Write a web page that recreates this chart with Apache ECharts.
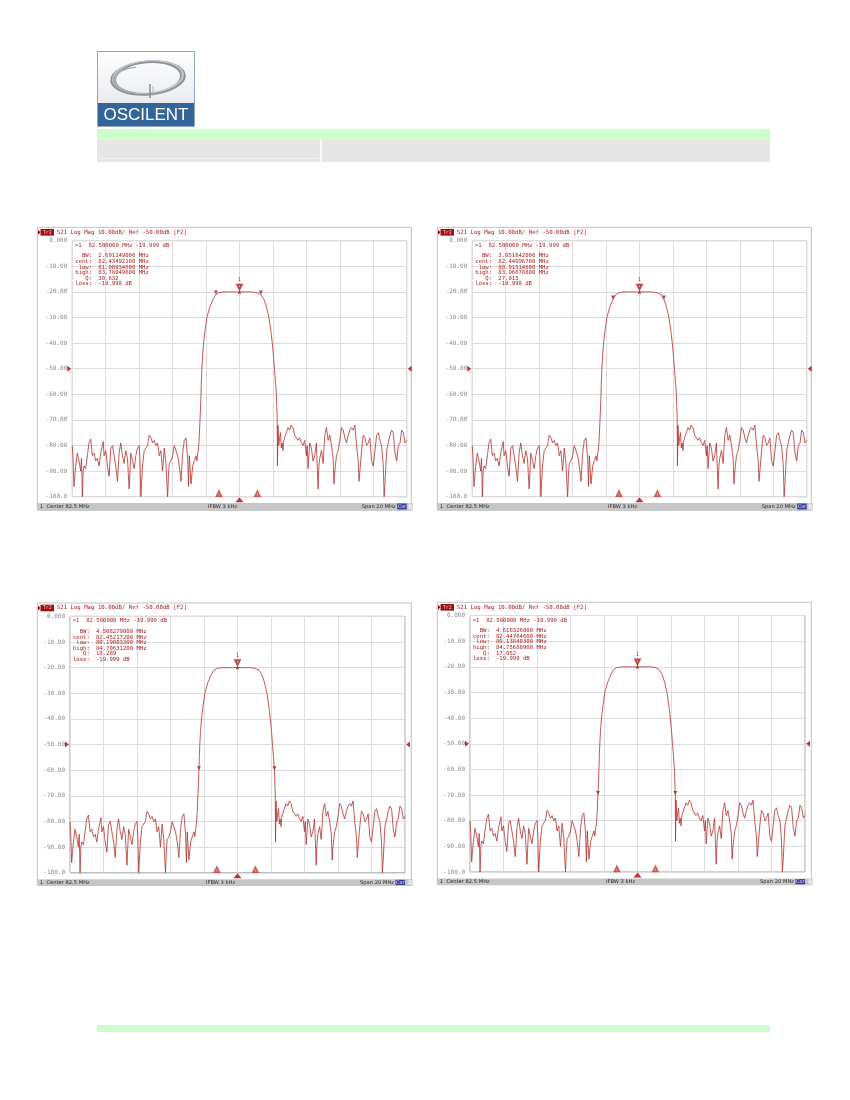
<!DOCTYPE html>
<html>
<head>
<meta charset="utf-8">
<script src="https://cdn.jsdelivr.net/npm/echarts@6/dist/echarts.min.js"></script>
<style>
  html, body { margin: 0; padding: 0; background: #fff; }
  #main { width: 850px; height: 1100px; }
</style>
</head>
<body>
<div id="main"></div>
<script>
// sweep settings
const centerMHz = 82.5;
const spanMHz = 20;

// S21 trace, [MHz, dB] - same sweep on all four screens
const traceLow = [
  [72.50,-80],[72.55,-86],[72.60,-96],[72.65,-92],[72.70,-88],[72.80,-83],[72.90,-86],[73.00,-90],
  [73.05,-85],[73.10,-100],[73.15,-90],[73.20,-88],[73.30,-89],[73.40,-84],[73.50,-79],[73.60,-77.5],
  [73.70,-84],[73.80,-83],[73.90,-86],[74.00,-85],[74.10,-88],[74.20,-83],[74.30,-80],[74.35,-78.5],
  [74.40,-84],[74.50,-82],[74.60,-88],[74.70,-92],[74.80,-81],[74.90,-80],[75.00,-84],[75.10,-88],
  [75.20,-94],[75.30,-83],[75.40,-79],[75.50,-84],[75.60,-87],[75.70,-82],[75.80,-85],[75.90,-97],
  [76.00,-83],[76.10,-86],[76.20,-89],[76.30,-84],[76.40,-81],[76.50,-80],[76.55,-86],[76.60,-100],
  [76.70,-88],[76.80,-82],[76.90,-81],[77.00,-80],[77.10,-76],[77.20,-77],[77.30,-79],[77.40,-78],
  [77.50,-80],[77.60,-79],[77.70,-84],[77.80,-82],[77.90,-90],[78.00,-81],[78.10,-87],[78.20,-100],
  [78.25,-92],[78.30,-87],[78.40,-86],[78.50,-84],[78.60,-80],[78.70,-80],[78.80,-84],[78.90,-88],
  [79.00,-94],[79.10,-83],[79.20,-78],[79.30,-77],[79.40,-85],[79.45,-96],[79.50,-84],[79.60,-95],
  [79.70,-88],[79.80,-86],[79.90,-84],[79.95,-86],[80.00,-83],[80.05,-81]
];
const traceBand = [
  [80.09,-77],[80.138,-70],[80.17,-65],[80.198,-60],[80.22,-55],[80.25,-50],[80.29,-45],[80.35,-40],
  [80.44,-35],[80.55,-30],[80.72,-26],[80.915,-23],[81.089,-21],[81.25,-20.4],[81.45,-20.1],
  [81.80,-20.0],[82.20,-20.0],[82.50,-20.0],[82.80,-20.0],[83.20,-20.0],[83.45,-20.15],[83.62,-20.5],
  [83.78,-21],[83.967,-23],[84.12,-26],[84.26,-30],[84.37,-35],[84.46,-40],[84.53,-45],[84.59,-50],
  [84.65,-55],[84.706,-60],[84.73,-65],[84.757,-70],[84.77,-88]
];
const traceHigh = [
  [84.80,-72],[84.85,-80],[84.90,-77],[84.95,-75],[85.00,-81],[85.05,-79],[85.10,-82],[85.15,-78],
  [85.20,-77],[85.30,-75],[85.40,-73],[85.50,-74],[85.60,-72],[85.65,-71.5],[85.70,-73],[85.80,-76],
  [85.90,-77],[86.00,-78],[86.10,-77],[86.20,-79],[86.30,-80],[86.40,-78],[86.50,-84],[86.55,-80],
  [86.60,-89],[86.70,-79],[86.80,-81],[86.90,-86],[87.00,-84],[87.10,-79],[87.15,-88],[87.20,-97],
  [87.25,-88],[87.30,-85],[87.40,-82],[87.50,-87],[87.60,-76],[87.70,-73],[87.80,-78],[87.90,-76],
  [88.00,-80],[88.10,-85],[88.15,-95],[88.20,-90],[88.30,-84],[88.40,-82],[88.50,-78],[88.60,-73],
  [88.70,-74],[88.80,-77],[88.90,-79],[89.00,-76],[89.10,-74],[89.20,-73],[89.30,-74],[89.40,-72],
  [89.50,-80],[89.60,-86],[89.65,-94],[89.70,-90],[89.80,-82],[89.90,-76],[90.00,-77],[90.10,-80],
  [90.20,-79],[90.30,-77],[90.40,-86],[90.50,-88],[90.60,-82],[90.70,-76],[90.80,-75],[90.90,-78],
  [91.00,-80],[91.10,-88],[91.15,-100],[91.20,-95],[91.30,-82],[91.40,-79],[91.50,-76],[91.60,-74],
  [91.70,-75],[91.80,-83],[91.90,-86],[92.00,-80],[92.10,-79],[92.20,-74],[92.30,-75],[92.40,-79],
  [92.50,-78]
];

const yTickLabels = ['0.000','-10.00','-20.00','-30.00','-40.00','-50.00','-60.00','-70.00','-80.00','-90.00','-100.0'];
const refLevel = -50;

// marker readouts, one entry per screen
const bwLevel = [-21.0, -23.0, -60.0, -70.0];
const bwText = ['2.691149000', '3.051642000', '4.508279000', '4.618326000'];
const centText = ['82.43492100', '82.44096700', '82.45217200', '82.44764600'];
const lowText = ['81.08934600', '80.91514600', '80.19803300', '80.13848300'];
const highText = ['83.78049600', '83.96678800', '84.70631200', '84.75680900'];
const qText = ['30.632', '27.015', '18.289', '17.852'];
const lossText = '-19.999 dB';
const marker1 = [82.5, -19.999];
const stimMarks = [81.27, 83.57];

const titleText = 'S21 Log Mag 10.00dB/ Ref -50.00dB [F2]';
const statusText = ['1  Center 82.5 MHz', 'IFBW 3 kHz', 'Span 20 MHz'];

// screen layout on the page
const panelBoxes = [
  { fx: 37.3, fy: 227.3, fw: 374, fh: 283, gl: 72.3, gt: 240.7, gw: 334.4, gh: 256, sy: 503, sh: 7 },
  { fx: 437.3, fy: 227.3, fw: 374, fh: 283, gl: 472.3, gt: 240.7, gw: 334.4, gh: 256, sy: 503, sh: 7 },
  { fx: 37.3, fy: 603, fw: 374, fh: 282.5, gl: 70, gt: 616.3, gw: 335, gh: 256.5, sy: 879.3, sh: 6.2 },
  { fx: 437.3, fy: 602.3, fw: 374, fh: 282.5, gl: 470, gt: 615.5, gw: 335, gh: 256.5, sy: 878.6, sh: 6.2 },
];

const red = '#a81c1c';
const mono = '"DejaVu Sans Mono", "Liberation Mono", monospace';
const trace = traceLow.concat(traceBand, traceHigh).map((p) => [p[0] - centerMHz, p[1]]);

function txt(x, y, text, size, color, align, family, weight) {
  return {
    type: 'text', silent: true, z: 50,
    style: {
      x: x, y: y, text: text, fill: color,
      font: (weight || 'normal') + ' ' + size + 'px ' + (family || mono),
      align: align || 'left', textAlign: align || 'left',
      verticalAlign: 'middle', textVerticalAlign: 'middle',
    },
  };
}

const grids = [], xAxes = [], yAxes = [], series = [];
let graphics = [];

// page header: logo + coloured bars
graphics.push(
  { type: 'rect', shape: { x: 97.5, y: 51.5, width: 97, height: 75 }, style: { fill: '#ffffff', stroke: '#8fa5c2', lineWidth: 1 } },
  { type: 'rect', shape: { x: 98, y: 52, width: 96, height: 51 },
    style: { fill: new echarts.graphic.LinearGradient(0, 0, 0, 1, [{ offset: 0, color: '#ffffff' }, { offset: 1, color: '#e9ebef' }]) } },
  { type: 'circle', x: 148, y: 78, rotation: 0.08, scaleY: 0.46, shape: { cx: 0, cy: 0, r: 35 },
    style: { fill: 'none', stroke: '#8f949b', lineWidth: 4, strokeNoScale: true } },
  { type: 'circle', x: 148, y: 77, rotation: 0.08, scaleY: 0.46, shape: { cx: 0, cy: 0, r: 35 },
    style: { fill: 'none', stroke: '#c4c7cc', lineWidth: 1.5, strokeNoScale: true } },
  { type: 'arc', x: 140, y: 80, scaleY: 0.5, shape: { cx: 0, cy: 0, r: 26, startAngle: Math.PI * 0.55, endAngle: Math.PI * 1.45 },
    style: { fill: 'none', stroke: '#a9adb3', lineWidth: 2.5, strokeNoScale: true } },
  { type: 'line', shape: { x1: 150, y1: 84, x2: 150, y2: 98 }, style: { stroke: '#8f949b', lineWidth: 1.6 } },
  { type: 'line', shape: { x1: 153, y1: 86, x2: 153, y2: 96 }, style: { stroke: '#b0b3b8', lineWidth: 1 } },
  { type: 'rect', shape: { x: 98, y: 103, width: 96, height: 23 }, style: { fill: '#33649a' } },
  txt(146, 115.5, 'OSCILENT', 17, '#ffffff', 'center', '"Liberation Sans", Arial, sans-serif'),
  { type: 'rect', shape: { x: 97, y: 129, width: 673, height: 10.5 }, style: { fill: '#ccffcc' } },
  { type: 'rect', shape: { x: 97, y: 139.5, width: 673, height: 22.5 }, style: { fill: '#e6e6e6' } },
  { type: 'line', shape: { x1: 321, y1: 139.5, x2: 321, y2: 162 }, style: { stroke: '#ffffff', lineWidth: 1.5 } },
  { type: 'line', shape: { x1: 99, y1: 158.5, x2: 318, y2: 158.5 }, style: { stroke: '#f2f2f2', lineWidth: 1 } },
  { type: 'rect', shape: { x: 97, y: 1025, width: 673, height: 7 }, style: { fill: '#ccffcc' } }
);

panelBoxes.forEach((b, i) => {
  grids.push({
    left: b.gl, top: b.gt, width: b.gw, height: b.gh,
    show: true, backgroundColor: '#ffffff', borderColor: '#a3a3a3', borderWidth: 1,
  });
  xAxes.push({
    type: 'value', gridIndex: i, min: -spanMHz / 2, max: spanMHz / 2, interval: 2,
    axisLine: { show: false }, axisTick: { show: false }, axisLabel: { show: false },
    splitLine: { lineStyle: { color: '#dddddd', width: 1 } },
  });
  yAxes.push({
    type: 'value', gridIndex: i, min: -100, max: 0, interval: 10,
    axisLine: { show: false }, axisTick: { show: false },
    splitLine: { lineStyle: { color: '#dddddd', width: 1 } },
    axisLabel: {
      margin: 5, fontSize: 6, fontFamily: mono,
      color: (v) => (v === refLevel ? '#c00000' : '#8a8a8a'),
      formatter: (v) => yTickLabels[Math.round(-v / 10)],
    },
  });

  series.push({
    type: 'line', xAxisIndex: i, yAxisIndex: i, data: trace,
    showSymbol: false, symbol: 'none', animation: false, z: 3,
    lineStyle: { color: '#b3302e', width: 0.8 },
  });
  // bandwidth search markers
  series.push({
    type: 'scatter', xAxisIndex: i, yAxisIndex: i, animation: false, clip: false, z: 5,
    symbol: 'triangle', symbolSize: 4, symbolRotate: 180, symbolOffset: [0, -2],
    itemStyle: { color: red },
    data: [[parseFloat(lowText[i]) - centerMHz, bwLevel[i]], [parseFloat(highText[i]) - centerMHz, bwLevel[i]]],
  });
  // active marker 1
  series.push({
    type: 'scatter', xAxisIndex: i, yAxisIndex: i, animation: false, clip: false, z: 6,
    symbol: 'emptyTriangle', symbolSize: 4.5, symbolRotate: 180, symbolOffset: [0, -5],
    itemStyle: { color: red, borderWidth: 0.7 },
    label: { show: true, position: 'top', distance: 1, formatter: '1', fontSize: 5.5, fontFamily: mono, color: red },
    data: [[marker1[0] - centerMHz, marker1[1]]],
  });
  series.push({
    type: 'scatter', xAxisIndex: i, yAxisIndex: i, animation: false, clip: false, z: 6,
    symbol: 'triangle', symbolSize: 3.5, symbolOffset: [0, 0],
    itemStyle: { color: red },
    data: [[marker1[0] - centerMHz, marker1[1]]],
  });
  // stimulus markers along the bottom edge
  series.push({
    type: 'scatter', xAxisIndex: i, yAxisIndex: i, animation: false, clip: false, z: 6,
    symbol: 'emptyTriangle', symbolSize: 4.5, symbolOffset: [0, -3],
    itemStyle: { color: '#c83a3a', borderWidth: 0.7 },
    data: stimMarks.map((f) => [f - centerMHz, -100]),
  });
  series.push({
    type: 'scatter', xAxisIndex: i, yAxisIndex: i, animation: false, clip: false, z: 6,
    symbol: 'triangle', symbolSize: [8, 5], symbolOffset: [0, 3],
    itemStyle: { color: '#b00000' },
    data: [[0, -100]],
  });
  // reference level arrows
  series.push({
    type: 'scatter', xAxisIndex: i, yAxisIndex: i, animation: false, clip: false, z: 6,
    symbol: 'triangle', symbolSize: [6, 4],
    itemStyle: { color: '#b00000' },
    data: [
      { value: [-spanMHz / 2, refLevel], symbolRotate: -90, symbolOffset: [-3, 0] },
      { value: [spanMHz / 2, refLevel], symbolRotate: 90, symbolOffset: [3, 0] },
    ],
  });

  // screen frame, title line and status bar
  const ty = b.fy + 5;
  graphics.push(
    { type: 'rect', z: 1, shape: { x: b.fx, y: b.fy, width: b.fw, height: b.fh }, style: { fill: 'none', stroke: '#c2c2c2', lineWidth: 1 } },
    { type: 'polygon', z: 50, shape: { points: [[b.fx + 0.7, ty - 2.6], [b.fx + 3, ty], [b.fx + 0.7, ty + 2.6]] }, style: { fill: '#900000' } },
    { type: 'rect', z: 50, shape: { x: b.fx + 3.2, y: ty - 3.3, width: 13.5, height: 6.6 }, style: { fill: '#9a0e0e' } },
    txt(b.fx + 10, ty + 0.2, 'Tr2', 5, '#f3d0d0', 'center'),
    txt(b.fx + 19.5, ty, titleText, 5.7, red, 'left'),
    { type: 'rect', z: 40, shape: { x: b.fx, y: b.sy, width: b.fw + 1.5, height: b.sh }, style: { fill: '#c6c6c6' } },
    txt(b.fx + 2.5, b.sy + b.sh / 2, statusText[0], 5.2, '#2a2a2a', 'left', '"DejaVu Sans", sans-serif'),
    txt(b.gl + b.gw / 2 - 17, b.sy + b.sh / 2, statusText[1], 5.2, '#2a2a2a', 'center', '"DejaVu Sans", sans-serif'),
    txt(b.gl + b.gw - 11, b.sy + b.sh / 2, statusText[2], 5.2, '#2a2a2a', 'right', '"DejaVu Sans", sans-serif'),
    { type: 'rect', z: 45, shape: { x: b.gl + b.gw - 9.5, y: b.sy + 0.5, width: 9.5, height: b.sh - 1 }, style: { fill: '#3c3c9a' } },
    txt(b.gl + b.gw - 4.75, b.sy + b.sh / 2, 'Cor', 4.8, '#e8e8ff', 'center', '"DejaVu Sans", sans-serif'),
    { type: 'rect', z: 45, shape: { x: b.fx + b.fw - 3, y: b.sy + 0.5, width: 4, height: b.sh - 1 }, style: { fill: '#e4e4e4' } }
  );

  // marker readout inside the plot
  const rx = b.gl + 2.7, ry = b.gt + 4.6;
  graphics.push(txt(rx, ry, '>1  ' + centerMHz.toFixed(6) + ' MHz ' + lossText, 5.6, red, 'left'));
  const labels = ['BW:', 'cent:', 'low:', 'high:', 'Q:', 'loss:'];
  const values = [bwText[i] + ' MHz', centText[i] + ' MHz', lowText[i] + ' MHz', highText[i] + ' MHz', qText[i], lossText];
  labels.forEach((lab, k) => {
    const yy = b.gt + 15.3 + k * 5.6;
    graphics.push(txt(b.gl + 19.8, yy, lab, 5.6, red, 'right'));
    graphics.push(txt(b.gl + 26, yy, values[k], 5.6, red, 'left'));
  });
});

const chart = echarts.init(document.getElementById('main'));
chart.setOption({
  backgroundColor: '#ffffff',
  animation: false,
  grid: grids,
  xAxis: xAxes,
  yAxis: yAxes,
  series: series,
  graphic: { elements: graphics },
});
</script>
</body>
</html>
